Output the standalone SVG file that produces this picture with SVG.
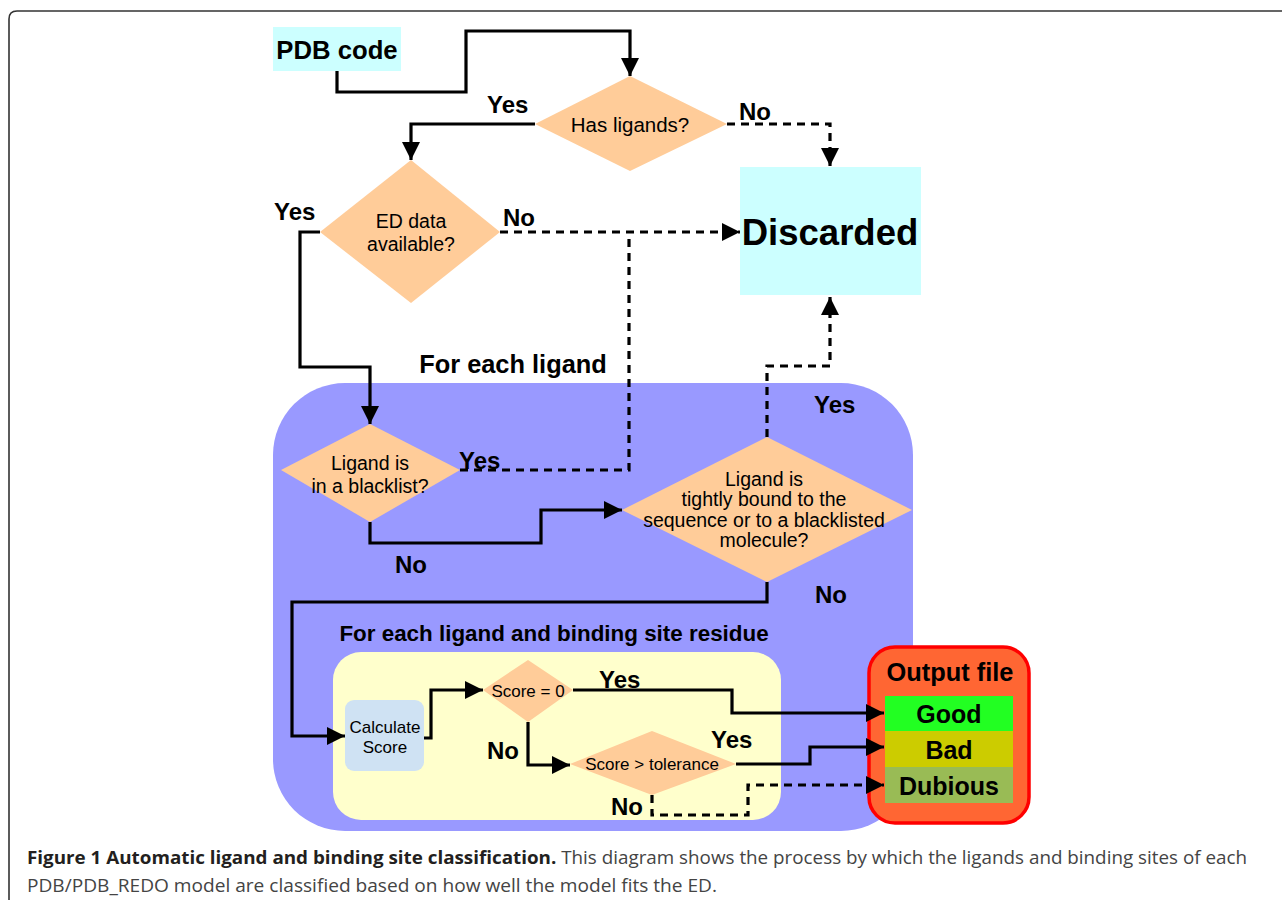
<svg xmlns="http://www.w3.org/2000/svg" width="1282" height="900" viewBox="0 0 1282 900">
<defs>
<marker id="ah" markerUnits="userSpaceOnUse" markerWidth="20" markerHeight="18" refX="18" refY="9" orient="auto">
<path d="M0,0 L18,9 L0,18 z" fill="#000"/>
</marker>
<style>
.ln{fill:none;stroke:#000;stroke-width:3.2;stroke-linejoin:miter}
.ds{fill:none;stroke:#000;stroke-width:3.2;stroke-dasharray:8 6}
.dia{fill:#ffcc99}
.t{font-family:"Liberation Sans",Arial,sans-serif;fill:#000;text-anchor:middle}
.n{font-size:19.5px}
.b{font-weight:bold}
.lbl{font-family:"Liberation Sans",Arial,sans-serif;font-weight:bold;font-size:24px;fill:#000}
.cap{font-family:"Open Sans","Liberation Sans",sans-serif;font-size:18px}
</style>
</defs>
<rect width="1282" height="900" fill="#fff"/>
<path d="M9,900 L9,19 Q9,11 17,11 L1282,11" fill="none" stroke="#333" stroke-width="1.6"/>

<g id="loop-ligand">
<rect x="273" y="383" width="640" height="448" rx="72" ry="72" fill="#9999ff"/>
<text class="t b" x="513" y="373" font-size="25.4">For each ligand</text>
</g>
<g id="loop-residue">
<rect x="333" y="652" width="448" height="168" rx="28" ry="28" fill="#ffffcc"/>
<text class="t b" x="554" y="641" font-size="22.4">For each ligand and binding site residue</text>
</g>

<g id="pdb-code">
<rect x="273" y="27" width="128" height="44" fill="#ccffff"/>
<text class="t b" x="337" y="59" font-size="25.7">PDB code</text>
</g>
<g id="has-ligands">
<polygon class="dia" points="630,76 727,124 630,171 535,124"/>
<text class="t" x="630" y="132" font-size="20.5">Has ligands?</text>
</g>
<g id="discarded">
<rect x="740" y="167" width="181" height="128" fill="#ccffff"/>
<text class="t b" x="830" y="245" font-size="36.5">Discarded</text>
</g>
<g id="ed-data">
<polygon class="dia" points="411,160 500,232 411,303 320,232"/>
<text class="t n" x="411" y="228">ED data</text>
<text class="t n" x="411" y="251">available?</text>
</g>
<g id="blacklist">
<polygon class="dia" points="370,424 460,470 370,522 281,470"/>
<text class="t n" x="370" y="470">Ligand is</text>
<text class="t n" x="370" y="493">in a blacklist?</text>
</g>
<g id="tightly-bound">
<polygon class="dia" points="767,437 912,510 767,582 622,510"/>
<text class="t n" x="764" y="486">Ligand is</text>
<text class="t n" x="764" y="506">tightly bound to the</text>
<text class="t n" x="764" y="527">sequence or to a blacklisted</text>
<text class="t n" x="764" y="547">molecule?</text>
</g>
<g id="calculate-score">
<rect x="345" y="700" width="79" height="71" rx="9" ry="9" fill="#cfe2f3"/>
<text class="t" x="385" y="733" font-size="17">Calculate</text>
<text class="t" x="385" y="753" font-size="17">Score</text>
</g>
<g id="score-zero">
<polygon class="dia" points="528,660 573,690 528,722 483,690"/>
<text class="t" x="528" y="697" font-size="17">Score = 0</text>
</g>
<g id="score-tolerance">
<polygon class="dia" points="652,731 736,764 652,795 570,764"/>
<text class="t" x="652" y="770" font-size="17">Score &gt; tolerance</text>
</g>
<g id="output-file">
<rect x="869" y="647" width="160" height="176" rx="26" ry="26" fill="#ff6633" stroke="#ff0000" stroke-width="3.5"/>
<text class="t b" x="950" y="681" font-size="25.4">Output file</text>
<rect x="885" y="696" width="128" height="35" fill="#22ff22"/>
<rect x="885" y="731" width="128" height="36" fill="#cccc00"/>
<rect x="885" y="767" width="128" height="36" fill="#99bb55"/>
<text class="t b" x="949" y="723" font-size="25">Good</text>
<text class="t b" x="949" y="759" font-size="25">Bad</text>
<text class="t b" x="949" y="795" font-size="25">Dubious</text>
</g>

<g id="connectors">
<path class="ln" d="M337,71 L337,92 L466,92 L466,31 L630,31 L630,76" marker-end="url(#ah)"/>
<path class="ln" d="M535,124 L411,124 L411,160" marker-end="url(#ah)"/>
<path class="ds" d="M727,124 L830,124 L830,166" marker-end="url(#ah)"/>
<path class="ln" d="M320,232 L300,232 L300,367 L370,367 L370,424" marker-end="url(#ah)"/>
<path class="ds" d="M500,232 L740,232" marker-end="url(#ah)"/>
<path class="ds" d="M460,470 L629,470 L629,232"/>
<path class="ds" d="M767,437 L767,366 L830,366 L830,297" marker-end="url(#ah)"/>
<path class="ln" d="M370,522 L370,543 L541,543 L541,510 L622,510" marker-end="url(#ah)"/>
<path class="ln" d="M767,582 L767,602 L292,602 L292,736 L345,736" marker-end="url(#ah)"/>
<path class="ln" d="M424,738 L431,738 L431,690 L483,690" marker-end="url(#ah)"/>
<path class="ln" d="M573,690 L732,690 L732,713 L884,713" marker-end="url(#ah)"/>
<path class="ln" d="M528,722 L528,765 L570,765" marker-end="url(#ah)"/>
<path class="ln" d="M736,764 L810,764 L810,747 L884,747" marker-end="url(#ah)"/>
<path class="ds" d="M652,795 L652,815 L748,815 L748,785 L884,785" marker-end="url(#ah)"/>
<text class="lbl" x="487" y="113">Yes</text>
<text class="lbl" x="739" y="120">No</text>
<text class="lbl" x="274" y="220">Yes</text>
<text class="lbl" x="503" y="226">No</text>
<text class="lbl" x="459" y="469">Yes</text>
<text class="lbl" x="395" y="573">No</text>
<text class="lbl" x="814" y="413">Yes</text>
<text class="lbl" x="815" y="603">No</text>
<text class="lbl" x="599" y="688">Yes</text>
<text class="lbl" x="487" y="759">No</text>
<text class="lbl" x="711" y="748">Yes</text>
<text class="lbl" x="611" y="815">No</text>
</g>

<g id="caption">
<text class="cap" x="27" y="864" textLength="1220" lengthAdjust="spacingAndGlyphs"><tspan font-weight="bold" fill="#231f20">Figure 1 Automatic ligand and binding site classification.</tspan><tspan fill="#444"> This diagram shows the process by which the ligands and binding sites of each</tspan></text>
<text class="cap" x="27" y="892" fill="#444" textLength="690" lengthAdjust="spacingAndGlyphs">PDB/PDB_REDO model are classified based on how well the model fits the ED.</text>
</g>
</svg>
